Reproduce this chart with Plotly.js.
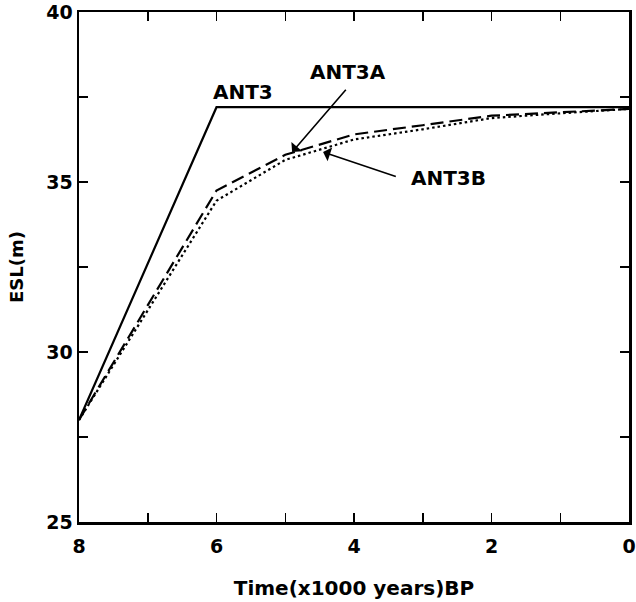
<!DOCTYPE html>
<html>
<head>
<meta charset="utf-8">
<script src="https://cdn.plot.ly/plotly-3.0.1.min.js"></script>
<style>html,body{margin:0;padding:0;background:#fff;}#chart{width:636px;height:602px;}</style>
</head>
<body>
<div id="chart"></div>
<script>
// Time (x1000 years BP)
var timeANT3 = [8, 6, 0];
var eslANT3 = [28.0, 37.2, 37.2];

var timeANT3A = [8, 6, 5, 4, 3, 2, 1, 0];
var eslANT3A = [28.0, 34.75, 35.8, 36.4, 36.67, 36.95, 37.05, 37.15];

var timeANT3B = [8, 6, 5, 4, 3, 2, 1, 0];
var eslANT3B = [28.0, 34.45, 35.65, 36.25, 36.55, 36.88, 37.02, 37.15];

var labelNames = ['ANT3', 'ANT3A', 'ANT3B'];
var xTickVals = [8, 6, 4, 2, 0];
var xTickText = ['8', '6', '4', '2', '0'];
var yTickVals = [25, 30, 35, 40];
var yTickText = ['25', '30', '35', '40'];

var FONT = 'DejaVu Sans, Verdana, sans-serif';
function bold(s) { return '<b>' + s + '</b>'; }

var traces = [
  {x: timeANT3, y: eslANT3, mode: 'lines', name: 'ANT3',
   line: {color: '#000', width: 2.2}},
  {x: timeANT3A, y: eslANT3A, mode: 'lines', name: 'ANT3A',
   line: {color: '#000', width: 2.2, dash: '13px,6px'}},
  {x: timeANT3B, y: eslANT3B, mode: 'lines', name: 'ANT3B',
   line: {color: '#000', width: 2.2, dash: '2.5px,3px'}}
];

var axisCommon = {
  showgrid: false, zeroline: false, showline: true, linecolor: '#000', linewidth: 2.5,
  mirror: 'ticks', ticks: 'inside', ticklen: 9, tickwidth: 1.5, tickcolor: '#000',
  tickfont: {family: FONT, size: 19, color: '#000', weight: 'bold'}
};

var layout = {
  width: 636, height: 602,
  margin: {l: 79, r: 7, t: 12, b: 80},
  paper_bgcolor: '#fff', plot_bgcolor: '#fff',
  showlegend: false,
  xaxis: Object.assign({}, axisCommon, {
    range: [8, 0], tickvals: xTickVals, ticktext: xTickText.map(bold), ticklabelstandoff: 6,
    minor: {dtick: 1, ticks: 'inside', ticklen: 9, tickwidth: 1.5, tickcolor: '#000'},
    title: {text: bold('Time(x1000 years)BP'), standoff: 25,
            font: {family: FONT, size: 20, color: '#000', weight: 'bold'}}
  }),
  yaxis: Object.assign({}, axisCommon, {
    range: [25, 40], tickvals: yTickVals, ticktext: yTickText.map(bold),
    minor: {dtick: 2.5, ticks: 'inside', ticklen: 9, tickwidth: 1.5, tickcolor: '#000'},
    title: {text: bold('ESL(m)'), standoff: 18,
            font: {family: FONT, size: 18, color: '#000', weight: 'bold'}}
  }),
  annotations: [
    {x: 5.61, y: 37.65, xref: 'x', yref: 'y', text: bold(labelNames[0]), showarrow: false,
     font: {family: FONT, size: 20, color: '#000', weight: 'bold'}},
    {x: 4.09, y: 38.24, xref: 'x', yref: 'y', text: bold(labelNames[1]), showarrow: false,
     font: {family: FONT, size: 20, color: '#000', weight: 'bold'}},
    {x: 2.62, y: 35.12, xref: 'x', yref: 'y', text: bold(labelNames[2]), showarrow: false,
     font: {family: FONT, size: 20, color: '#000', weight: 'bold'}},
    {x: 4.90, y: 35.88, ax: 4.10, ay: 37.76, xref: 'x', yref: 'y', axref: 'x', ayref: 'y',
     text: '', showarrow: true, arrowhead: 1, arrowsize: 1.5, arrowwidth: 1.6, arrowcolor: '#000'},
    {x: 4.45, y: 35.88, ax: 3.37, ay: 35.15, xref: 'x', yref: 'y', axref: 'x', ayref: 'y',
     text: '', showarrow: true, arrowhead: 1, arrowsize: 1.5, arrowwidth: 1.6, arrowcolor: '#000'}
  ]
};

Plotly.newPlot('chart', traces, layout, {staticPlot: true, displayModeBar: false});
</script>
</body>
</html>
